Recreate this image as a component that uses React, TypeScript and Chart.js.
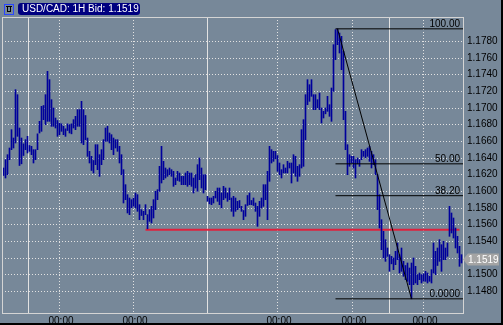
import React, { useEffect, useRef } from 'react';
import { Chart, registerables } from 'chart.js';

Chart.register(...registerables);

// ---- data (hourly bars, high / low) ----
const highs = [
  1.1628, 1.1638, 1.1644, 1.1652, 1.1674, 1.1664, 1.1722, 1.1716, 1.1676, 1.1664,
  1.1657, 1.1662, 1.1666, 1.1655, 1.1654, 1.1650, 1.1650, 1.1669, 1.1684, 1.1702,
  1.1703, 1.1716, 1.1744, 1.1734, 1.1710, 1.1700, 1.1688, 1.1685, 1.1682, 1.1681,
  1.1678, 1.1675, 1.1681, 1.1680, 1.1681, 1.1686, 1.1690, 1.1698, 1.1698, 1.1708,
  1.1698, 1.1691, 1.1664, 1.1648, 1.1642, 1.1637, 1.1656, 1.1656, 1.1644, 1.1650,
  1.1662, 1.1676, 1.1678, 1.1670, 1.1668, 1.1664, 1.1662, 1.1662, 1.1654, 1.1644,
  1.1626, 1.1608, 1.1596, 1.1592, 1.1590, 1.1592, 1.1598, 1.1596, 1.1584, 1.1578,
  1.1576, 1.1584, 1.1572, 1.1578, 1.1582, 1.1590, 1.1600, 1.1602, 1.1630, 1.1654,
  1.1636, 1.1628, 1.1626, 1.1628, 1.1626, 1.1624, 1.1616, 1.1624, 1.1622, 1.1618,
  1.1618, 1.1622, 1.1624, 1.1622, 1.1622, 1.1616, 1.1620, 1.1632, 1.1640, 1.1628,
  1.1620, 1.1620, 1.1594, 1.1592, 1.1592, 1.1594, 1.1600, 1.1604, 1.1604, 1.1598,
  1.1606, 1.1604, 1.1598, 1.1604, 1.1592, 1.1594, 1.1592, 1.1588, 1.1589, 1.1582,
  1.1577, 1.1584, 1.1595, 1.1598, 1.1589, 1.1592, 1.1586, 1.1582, 1.1588, 1.1592,
  1.1608, 1.1608, 1.1624, 1.1654, 1.1650, 1.1648, 1.1648, 1.1643, 1.1634, 1.1626,
  1.1632, 1.1628, 1.1636, 1.1634, 1.1634, 1.1644, 1.1642, 1.1630, 1.1632, 1.1674,
  1.1686, 1.1716, 1.1734, 1.1728, 1.1734, 1.1716, 1.1716, 1.1710, 1.1718, 1.1700,
  1.1696, 1.1700, 1.1714, 1.1704, 1.1724, 1.1776, 1.1794, 1.1795, 1.1790, 1.1786,
  1.1768, 1.1696, 1.1656, 1.1644, 1.1642, 1.1642, 1.1638, 1.1640, 1.1638, 1.1650,
  1.1648, 1.1650, 1.1652, 1.1654, 1.1648, 1.1644, 1.1638, 1.1620, 1.1596, 1.1566,
  1.1552, 1.1542, 1.1532, 1.1524, 1.1522, 1.1520, 1.1528, 1.1538, 1.1524, 1.1532,
  1.1516, 1.1511, 1.1514, 1.1508, 1.1514, 1.1520, 1.1510, 1.1500, 1.1502, 1.1500,
  1.1501, 1.1504, 1.1502, 1.1498, 1.1506, 1.1538, 1.1528, 1.1532, 1.1542, 1.1536,
  1.1540, 1.1532, 1.1538, 1.1582, 1.1574, 1.1568, 1.1556, 1.1546, 1.1534, 1.1524,
];

const lows = [
  1.1619, 1.1616, 1.1620, 1.1638, 1.1650, 1.1652, 1.1658, 1.1666, 1.1631, 1.1633,
  1.1643, 1.1650, 1.1646, 1.1648, 1.1644, 1.1634, 1.1638, 1.1650, 1.1670, 1.1672,
  1.1686, 1.1680, 1.1684, 1.1684, 1.1678, 1.1678, 1.1676, 1.1666, 1.1668, 1.1672,
  1.1668, 1.1666, 1.1673, 1.1670, 1.1669, 1.1676, 1.1674, 1.1678, 1.1678, 1.1658,
  1.1656, 1.1662, 1.1642, 1.1634, 1.1625, 1.1622, 1.1632, 1.1626, 1.1618, 1.1632,
  1.1638, 1.1660, 1.1660, 1.1658, 1.1650, 1.1644, 1.1652, 1.1648, 1.1634, 1.1620,
  1.1586, 1.1590, 1.1574, 1.1572, 1.1580, 1.1582, 1.1580, 1.1576, 1.1566, 1.1571,
  1.1566, 1.1572, 1.1555, 1.1564, 1.1562, 1.1568, 1.1578, 1.1590, 1.1600, 1.1610,
  1.1614, 1.1616, 1.1618, 1.1620, 1.1618, 1.1606, 1.1608, 1.1613, 1.1612, 1.1608,
  1.1608, 1.1608, 1.1606, 1.1608, 1.1606, 1.1598, 1.1604, 1.1600, 1.1614, 1.1604,
  1.1598, 1.1602, 1.1588, 1.1585, 1.1584, 1.1586, 1.1592, 1.1588, 1.1584, 1.1580,
  1.1590, 1.1592, 1.1588, 1.1590, 1.1576, 1.1570, 1.1576, 1.1578, 1.1580, 1.1576,
  1.1566, 1.1570, 1.1583, 1.1584, 1.1584, 1.1583, 1.1576, 1.1558, 1.1570, 1.1580,
  1.1582, 1.1590, 1.1566, 1.1612, 1.1634, 1.1636, 1.1639, 1.1624, 1.1620, 1.1616,
  1.1622, 1.1622, 1.1622, 1.1628, 1.1610, 1.1622, 1.1618, 1.1612, 1.1618, 1.1628,
  1.1630, 1.1662, 1.1704, 1.1708, 1.1714, 1.1698, 1.1698, 1.1700, 1.1698, 1.1682,
  1.1688, 1.1693, 1.1696, 1.1690, 1.1684, 1.1720, 1.1758, 1.1776, 1.1766, 1.1746,
  1.1686, 1.1650, 1.1620, 1.1630, 1.1634, 1.1628, 1.1616, 1.1633, 1.1630, 1.1638,
  1.1642, 1.1640, 1.1642, 1.1636, 1.1628, 1.1632, 1.1620, 1.1578, 1.1556, 1.1530,
  1.1520, 1.1516, 1.1522, 1.1504, 1.1513, 1.1506, 1.1512, 1.1518, 1.1502, 1.1504,
  1.1498, 1.1494, 1.1492, 1.1488, 1.1471, 1.1488, 1.1490, 1.1488, 1.1494, 1.1490,
  1.1492, 1.1492, 1.1490, 1.1492, 1.1490, 1.1502, 1.1500, 1.1511, 1.1516, 1.1504,
  1.1518, 1.1518, 1.1522, 1.1546, 1.1550, 1.1544, 1.1532, 1.1526, 1.1510, 1.1514,
];

const priceTicks = [
  1.148, 1.150, 1.152, 1.154, 1.156, 1.158, 1.160, 1.162,
  1.164, 1.166, 1.168, 1.170, 1.172, 1.174, 1.176, 1.178,
];
// time grid, in bar-index units
const dottedTimeTicks = [27.75, 64.75, 136.75, 174.25, 209.75];
const solidTimeTicks = [12.25, 101.75, 192.75];
const timeLabel = '00:00';

const symbol = 'USD/CAD';
const timeframe = '1H';
const lastBid = 1.1519;

// Fibonacci retracement
const fibHigh = 1.1795;
const fibLow = 1.1471;
const fibHighIndex = 167;
const fibLowIndex = 204;
const fibStartIndex = 166;
const fibRatios = [1, 0.5, 0.382, 0];
const fibLabels = ['100.00', '50.00', '38.20', '0.0000'];

// horizontal support line
const supportLevel = 1.1554;
const supportStart = 71;
const supportEnd = 228;

// ---- styles ----
const BG = '#778899';
const GRID = '#e2e2e2';
const BAR = '#00009c';
const FONT = '"Liberation Sans", Arial, sans-serif';
const FSIZE = 10;
const X_MIN = -0.75;
const X_MAX = 229.75;

const mtPlugin = {
  id: 'mtDecor',
  beforeDraw(chart: any) {
    const ctx = chart.ctx;
    ctx.save();
    ctx.fillStyle = BG;
    ctx.fillRect(0, 0, chart.width, chart.height);
    ctx.restore();
  },
  beforeDatasetsDraw(chart: any) {
    const { ctx, chartArea: a, scales } = chart;
    const x = scales.x;
    ctx.save();
    ctx.beginPath();
    ctx.rect(a.left, a.top, a.right - a.left, a.bottom - a.top);
    ctx.clip();
    ctx.lineWidth = 1;
    ctx.strokeStyle = GRID;
    ctx.setLineDash([]);
    for (const v of solidTimeTicks) {
      const px = Math.floor(x.getPixelForValue(v)) + 0.5;
      ctx.beginPath();
      ctx.moveTo(px, a.top);
      ctx.lineTo(px, a.bottom);
      ctx.stroke();
    }
    ctx.setLineDash([1, 2]);
    for (const v of dottedTimeTicks) {
      const px = Math.floor(x.getPixelForValue(v)) + 0.5;
      ctx.beginPath();
      ctx.moveTo(px, a.top);
      ctx.lineTo(px, a.bottom);
      ctx.stroke();
    }
    ctx.restore();
  },
  afterDraw(chart: any) {
    const { ctx, chartArea: a, scales } = chart;
    const y = scales.y;
    ctx.save();

    // plot frame
    ctx.strokeStyle = '#d4d4d4';
    ctx.lineWidth = 1;
    ctx.strokeRect(a.left + 0.5, a.top + 0.5, a.right - a.left, a.bottom - a.top);

    // fibonacci labels
    ctx.fillStyle = '#000';
    ctx.font = `${FSIZE}px ${FONT}`;
    ctx.textAlign = 'right';
    ctx.textBaseline = 'alphabetic';
    fibRatios.forEach((r, i) => {
      const p = fibLow + r * (fibHigh - fibLow);
      const py = y.getPixelForValue(p);
      ctx.fillText(fibLabels[i], a.right - 3, py - 2);
    });

    // last price badge
    const py = Math.round(y.getPixelForValue(lastBid));
    const bx = a.right;
    ctx.fillStyle = '#a4a4a4';
    ctx.beginPath();
    ctx.moveTo(bx, py + 0.5);
    ctx.lineTo(bx + 5, py - 5.5);
    ctx.lineTo(bx + 36, py - 5.5);
    ctx.lineTo(bx + 36, py + 6.5);
    ctx.lineTo(bx + 5, py + 6.5);
    ctx.closePath();
    ctx.fill();
    ctx.fillStyle = '#ffffff';
    ctx.textAlign = 'left';
    ctx.textBaseline = 'middle';
    ctx.fillText(lastBid.toFixed(4), bx + 5, py + 1);

    // title badge
    ctx.fillStyle = '#000080';
    ctx.beginPath();
    if ((ctx as any).roundRect) {
      (ctx as any).roundRect(18, 3, 122, 12, 3);
    } else {
      ctx.rect(18, 3, 122, 12);
    }
    ctx.fill();
    ctx.fillStyle = '#ffffff';
    ctx.textAlign = 'left';
    ctx.textBaseline = 'middle';
    ctx.font = `${FSIZE}px ${FONT}`;
    ctx.fillText(`${symbol}: ${timeframe} Bid: ${lastBid.toFixed(4)}`, 22, 9.5);

    // small icon
    ctx.strokeStyle = '#2a46ff';
    ctx.lineWidth = 1;
    ctx.strokeRect(4.5, 4.5, 9, 10);
    ctx.fillStyle = '#000';
    ctx.fillRect(6, 6, 6, 1);
    ctx.fillRect(7, 6, 1, 6);
    ctx.fillRect(10, 6, 1, 6);
    ctx.fillRect(7, 11, 4, 1);

    // outer dark edges
    ctx.fillStyle = '#000';
    ctx.fillRect(chart.width - 2, 0, 2, chart.height);
    ctx.fillRect(0, chart.height - 2, chart.width, 2);
    ctx.restore();
  },
};

export default function App() {
  const ref = useRef<HTMLCanvasElement | null>(null);

  useEffect(() => {
    if (!ref.current) return;
    const bars = highs.map((h, i) => ({ x: i, y: [lows[i], h] }));
    const fibDatasets = fibRatios.map((r) => {
      const p = fibLow + r * (fibHigh - fibLow);
      return {
        type: 'line' as const,
        data: [
          { x: fibStartIndex, y: p },
          { x: X_MAX, y: p },
        ],
        borderColor: '#000',
        borderWidth: 1,
        pointRadius: 0,
        order: 1,
      };
    });
    const chart = new Chart(ref.current, {
      type: 'bar',
      data: {
        datasets: [
          {
            type: 'line' as const,
            data: [
              { x: supportStart, y: supportLevel },
              { x: supportEnd, y: supportLevel },
            ],
            borderColor: '#e0203c',
            borderWidth: 2,
            pointRadius: 0,
            order: 3,
          },
          {
            type: 'bar' as const,
            data: bars as any,
            backgroundColor: BAR,
            borderWidth: 0,
            barThickness: 1,
            grouped: false,
            order: 2,
          },
          ...fibDatasets,
          {
            type: 'line' as const,
            data: [
              { x: fibHighIndex, y: fibHigh },
              { x: fibLowIndex, y: fibLow },
            ],
            borderColor: '#000',
            borderWidth: 1,
            pointRadius: 0,
            order: 1,
          },
        ] as any,
      },
      options: {
        animation: false,
        responsive: false,
        maintainAspectRatio: false,
        layout: { padding: { left: 2, top: 17, right: 0, bottom: 0 } },
        plugins: { legend: { display: false }, tooltip: { enabled: false } },
        scales: {
          x: {
            type: 'linear',
            min: X_MIN,
            max: X_MAX,
            offset: false,
            grid: { display: false, drawTicks: false },
            border: { display: false },
            afterBuildTicks: (s: any) => {
              s.ticks = dottedTimeTicks.map((v) => ({ value: v }));
            },
            afterFit: (s: any) => {
              s.height = 12;
            },
            ticks: {
              autoSkip: false,
              maxRotation: 0,
              minRotation: 0,
              padding: 2,
              labelOffset: 2,
              color: '#000',
              font: { family: FONT, size: FSIZE },
              callback: () => timeLabel,
            },
          },
          y: {
            type: 'linear',
            position: 'right',
            min: 1.1454,
            max: 1.18092,
            grid: { color: GRID, drawTicks: false, lineWidth: 1 },
            border: { display: false, dash: [1, 2] },
            afterBuildTicks: (s: any) => {
              s.ticks = priceTicks.map((v) => ({ value: v }));
            },
            afterFit: (s: any) => {
              s.width = 40;
            },
            ticks: {
              padding: 4,
              color: '#000',
              font: { family: FONT, size: FSIZE },
              callback: (v: any) =>
                Math.abs(Number(v) - lastBid) < 0.0012 ? '' : Number(v).toFixed(4),
            },
          },
        },
      } as any,
      plugins: [mtPlugin],
    });
    return () => chart.destroy();
  }, []);

  return (
    <div
      style={{
        position: 'fixed',
        left: 0,
        top: 0,
        width: 503,
        height: 325,
        background: BG,
      }}
    >
      <canvas ref={ref} width={503} height={325} style={{ display: 'block' }} />
    </div>
  );
}
